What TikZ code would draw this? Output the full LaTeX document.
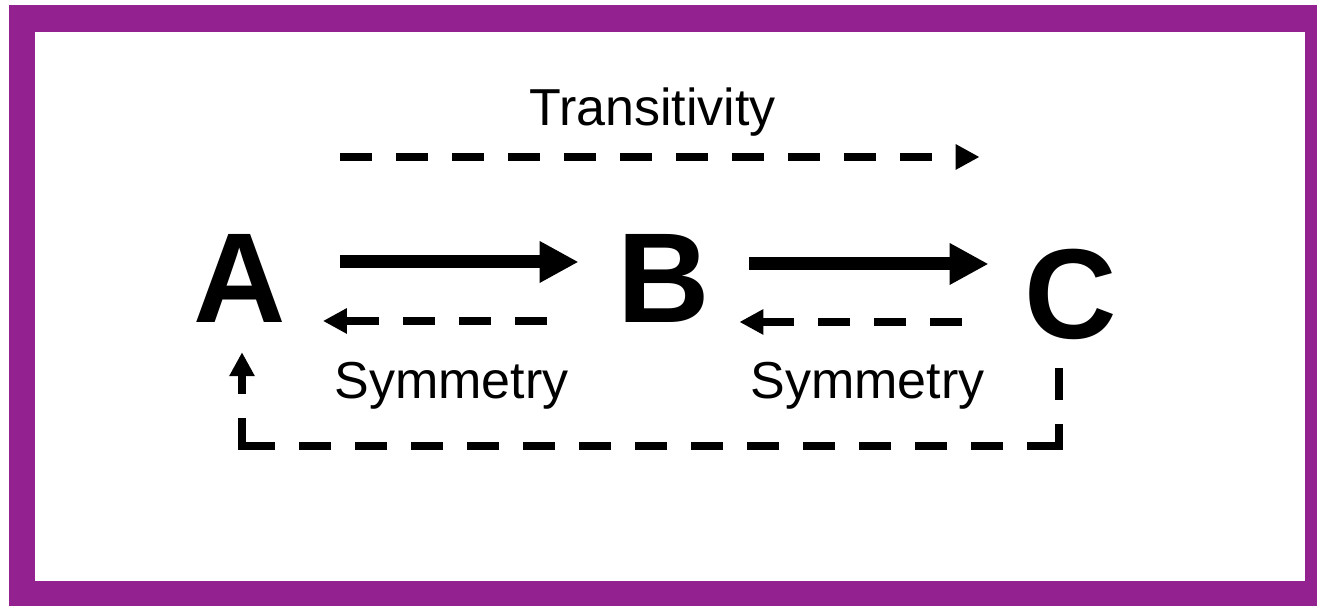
\documentclass[tikz,border=0pt]{standalone}
\usepackage{fontspec}
\setmainfont{Liberation Sans}
\usetikzlibrary{arrows.meta}
\definecolor{framepurple}{RGB}{147,33,143}
\begin{document}
\begin{tikzpicture}[x=1pt,y=-1pt,
  letter/.style={font=\fontsize{128}{128}\selectfont\bfseries, inner sep=0pt, anchor=base},
  textlbl/.style={font=\fontsize{52}{52}\selectfont, inner sep=0pt, anchor=base},
  solidarr/.style={line width=13pt, -{Triangle[length=39pt,width=39pt]}},
  dasharr/.style={line width=8pt, dash pattern=on 32pt off 24pt, -{Triangle[length=24pt,width=24pt]}},
  dashline/.style={line width=8pt, dash pattern=on 32pt off 24pt}]
\useasboundingbox (0,0) rectangle (1317,605);
% frame
\fill[framepurple] (9,5) rectangle (1340,630);
\fill[white] (35,32) rectangle (1305,581);
% letters
\node[letter] (A) at (239.5,322) {A};
\node[letter] (B) at (664,322) {B};
\node[letter] (C) at (1071,338) {C};
% labels
\node[textlbl] (T) at (652.5,125) {Transitivity};
\node[textlbl] (S1) at (451.5,398) {Symmetry};
\node[textlbl] (S2) at (867.5,398) {Symmetry};
% solid arrows
\draw[solidarr, shorten <=54pt, shorten >=39pt] ([yshift=16pt]A.east) -- ([yshift=16pt]B.west);
\draw[solidarr, shorten <=39pt, shorten >=36pt] ([yshift=14pt]B.east) -- ([yshift=14pt]B.east -| C.west);
% symmetry arrows
\draw[dasharr, shorten <=71pt, shorten >=37pt] ([yshift=-43pt]B.west) -- ([yshift=-43pt]A.east);
\draw[dasharr, shorten <=63pt, shorten >=29pt] ([yshift=-44pt]B.east -| C.west) -- ([yshift=-44pt]B.east);
% transitivity arrow
\draw[dasharr, shorten <=54pt, shorten >=45pt] ([yshift=121pt]A.east) -- ([yshift=121pt]A.east -| C.west);
% loop from C back to A
\coordinate (k1) at (1059,446);
\coordinate (k2) at (242,446);
\draw[dashline, shorten <=29pt] (k1 |- C.south) -- ([yshift=-4pt]k1);
\draw[dashline] (k1) -- (k2);
\draw[dasharr, shorten >=30pt] ([yshift=-4pt]k2) -- (k2 |- A.south);
\end{tikzpicture}
\end{document}
